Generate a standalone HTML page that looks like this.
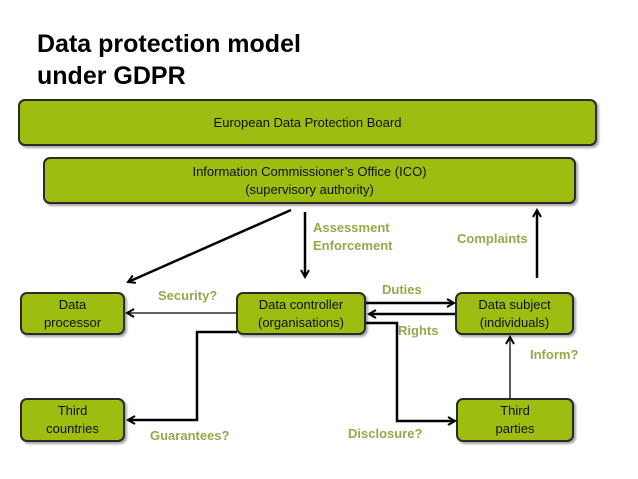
<!DOCTYPE html>
<html><head><meta charset="utf-8"><style>
body{margin:0;width:638px;height:479px;background:#fff;font-family:"Liberation Sans",sans-serif;overflow:hidden;position:relative}
.t{position:absolute;left:37px;top:28px;font-weight:bold;font-size:25px;line-height:32px;color:#000}
.b{position:absolute;background:#9dbd11;border:2px solid #2a2a2a;border-radius:7px;box-sizing:border-box;display:flex;align-items:center;justify-content:center;text-align:center;font-size:13px;line-height:18px;color:#111;box-shadow:2px 2px 2px rgba(0,0,0,.35)}
.l{position:absolute;color:#9aa64a;font-weight:bold;font-size:13px;line-height:18px}
svg{position:absolute;left:0;top:0}
</style></head><body>
<div class="t">Data protection model<br>under GDPR</div>
<div class="b" style="left:18px;top:99px;width:579px;height:47px">European Data Protection Board</div>
<div class="b" style="left:43px;top:157px;width:533px;height:47px">Information Commissioner’s Office (ICO)<br>(supervisory authority)</div>
<div class="b" style="left:20px;top:292px;width:105px;height:43px">Data<br>processor</div>
<div class="b" style="left:236px;top:292px;width:130px;height:43px">Data controller<br>(organisations)</div>
<div class="b" style="left:455px;top:292px;width:119px;height:43px">Data subject<br>(individuals)</div>
<div class="b" style="left:20px;top:398px;width:105px;height:44px">Third<br>countries</div>
<div class="b" style="left:456px;top:398px;width:118px;height:44px">Third<br>parties</div>
<svg width="638" height="479" fill="none" stroke="#000">
<defs><marker id="a" markerWidth="10" markerHeight="10" refX="8" refY="5" orient="auto" markerUnits="userSpaceOnUse"><path d="M1,1 L8,5 L1,9" stroke="#000" stroke-width="2" fill="none"/></marker></defs>
<g stroke-width="2.5">
<line x1="291" y1="210" x2="128" y2="282" marker-end="url(#a)"/>
<line x1="305" y1="212" x2="305" y2="277" marker-end="url(#a)"/>
<line x1="537" y1="278" x2="537" y2="210" marker-end="url(#a)"/>
<line x1="366" y1="303" x2="454" y2="303" marker-end="url(#a)"/>
<line x1="455" y1="314" x2="369" y2="314" marker-end="url(#a)"/>
<polyline points="237,332 197,332 197,420 128,420" marker-end="url(#a)"/>
<polyline points="366,323 397,323 397,421 455,421" marker-end="url(#a)"/>
</g>
<g stroke-width="1.3">
<line x1="236" y1="313" x2="127" y2="313" marker-end="url(#a)"/>
<line x1="510" y1="398" x2="510" y2="337" marker-end="url(#a)"/>
</g>
</svg>
<div class="l" style="left:313px;top:219px">Assessment<br>Enforcement</div>
<div class="l" style="left:457px;top:230px">Complaints</div>
<div class="l" style="left:158px;top:287px">Security?</div>
<div class="l" style="left:382px;top:281px">Duties</div>
<div class="l" style="left:398px;top:322px">Rights</div>
<div class="l" style="left:530px;top:346px">Inform?</div>
<div class="l" style="left:150px;top:427px">Guarantees?</div>
<div class="l" style="left:348px;top:425px">Disclosure?</div>
</body></html>
